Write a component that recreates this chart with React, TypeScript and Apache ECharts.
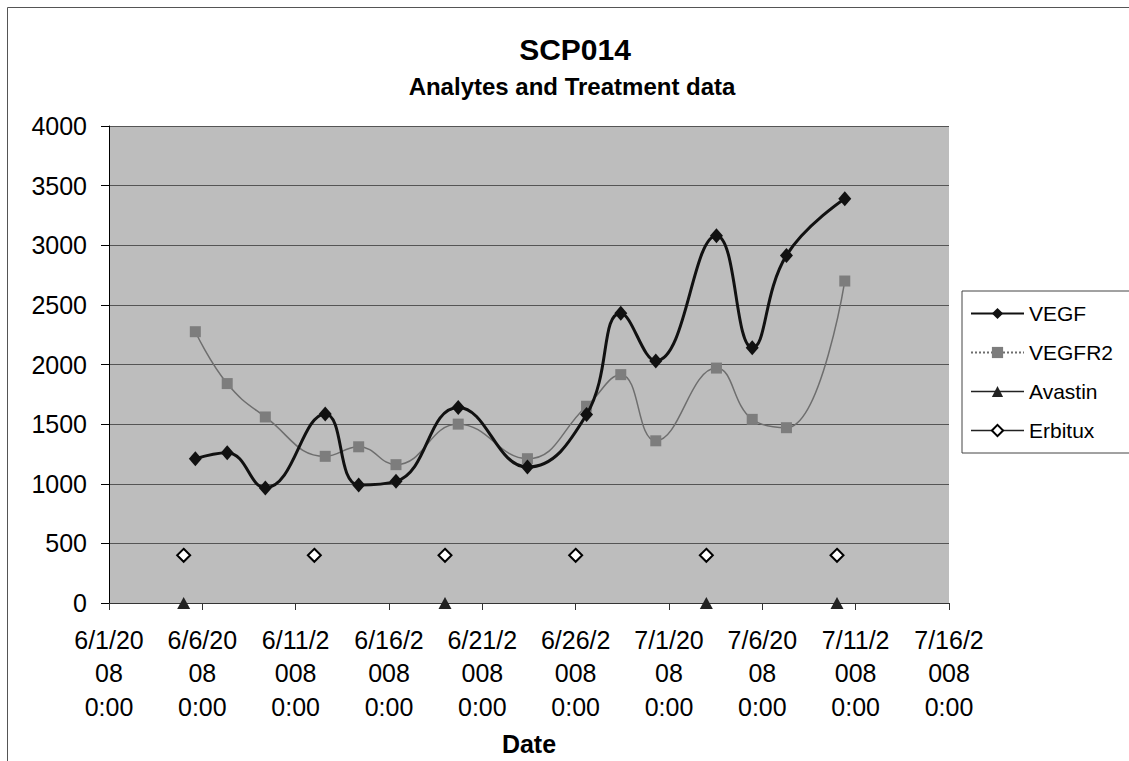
import React, { useEffect, useRef } from "react";
import * as echarts from "echarts";

// ---- data ----
const analyteDates = [
  "2008-06-05 15:00",
  "2008-06-07 08:00",
  "2008-06-09 09:00",
  "2008-06-12 14:00",
  "2008-06-14 09:00",
  "2008-06-16 09:00",
  "2008-06-19 17:00",
  "2008-06-23 10:00",
  "2008-06-26 14:00",
  "2008-06-28 10:00",
  "2008-06-30 07:00",
  "2008-07-03 13:00",
  "2008-07-05 11:00",
  "2008-07-07 07:00",
  "2008-07-10 10:00",
];
const vegf = [1210, 1260, 965, 1585, 990, 1020, 1640, 1140, 1580, 2430, 2030, 3080, 2140, 2915, 3390];
const vegfr2 = [2275, 1840, 1560, 1230, 1310, 1160, 1500, 1210, 1650, 1915, 1360, 1970, 1540, 1470, 2700];

const avastinDates = ["2008-06-05 00:00", "2008-06-19 00:00", "2008-07-03 00:00", "2008-07-10 00:00"];
const avastin = [0, 0, 0, 0];

const erbituxDates = [
  "2008-06-05 00:00",
  "2008-06-12 00:00",
  "2008-06-19 00:00",
  "2008-06-26 00:00",
  "2008-07-03 00:00",
  "2008-07-10 00:00",
];
const erbitux = [400, 400, 400, 400, 400, 400];

const xStart = "2008-06-01 00:00";
const xEnd = "2008-07-16 00:00";
const xStepDays = 5;
const yMin = 0;
const yMax = 4000;
const yStep = 500;

const titleText = "SCP014";
const subtitleText = "Analytes and Treatment data";
const xName = "Date";
const seriesNames = ["VEGF", "VEGFR2", "Avastin", "Erbitux"];

// ---- helpers ----
const DAY = 86400000;
function toUTC(s: string): number {
  const [d, t = "0:00"] = s.split(" ");
  const [y, m, dd] = d.split("-").map(Number);
  const [h, mi] = t.split(":").map(Number);
  return Date.UTC(y, m - 1, dd, h, mi);
}
const originMs = toUTC(xStart);
const dayOffset = (s: string) => (toUTC(s) - originMs) / DAY;
function dateLabel(v: number): string {
  const d = new Date(originMs + Math.round(v * DAY));
  const s = `${d.getUTCMonth() + 1}/${d.getUTCDate()}/${d.getUTCFullYear()}`;
  return s.slice(0, 6) + "\n" + s.slice(6) + "\n0:00";
}
const pairs = (dates: string[], vals: number[]) => dates.map((d, i) => [dayOffset(d), vals[i]]);

const FONT = "'Liberation Sans', Arial, sans-serif";

export default function App() {
  const ref = useRef<HTMLDivElement>(null);
  useEffect(() => {
    if (!ref.current) return;
    const chart = echarts.init(ref.current, undefined, { renderer: "svg" });
    chart.setOption({
      animation: false,
      backgroundColor: "#ffffff",
      textStyle: { fontFamily: FONT },
      title: [
        {
          text: titleText,
          left: 570,
          top: 29,
          textAlign: "center",
          textStyle: { fontFamily: FONT, fontWeight: "bold", fontSize: 30, color: "#000" },
        },
        {
          text: subtitleText,
          left: 567,
          top: 69,
          textAlign: "center",
          textStyle: { fontFamily: FONT, fontWeight: "bold", fontSize: 24, color: "#000" },
        },
      ],
      graphic: [
        {
          type: "rect",
          shape: { x: 7.5, y: 7.5, width: 1140, height: 770 },
          style: { fill: "none", stroke: "#555", lineWidth: 1 },
          silent: true,
          z: 0,
        },
      ],
      legend: {
        orient: "vertical",
        left: 962,
        top: 291,
        padding: [12, 60, 12, 8],
        itemWidth: 53,
        itemHeight: 14,
        itemGap: 18,
        backgroundColor: "#fff",
        borderColor: "#444",
        borderWidth: 1,
        textStyle: { fontFamily: FONT, fontSize: 21, color: "#000", lineHeight: 20 },
        data: [
          { name: "VEGF" },
          { name: "VEGFR2", lineStyle: { type: "dotted" } },
          { name: "Avastin", lineStyle: { width: 1.5, color: "#222" } },
          { name: "Erbitux", lineStyle: { width: 1.5, color: "#222" } },
        ],
      },
      grid: {
        left: 109,
        top: 126,
        width: 840,
        height: 481,
        show: true,
        backgroundColor: "#bdbdbd",
        borderWidth: 0,
      },
      xAxis: {
        type: "value",
        min: 0,
        max: dayOffset(xEnd),
        interval: xStepDays,
        name: xName,
        nameLocation: "middle",
        nameGap: 128,
        nameTextStyle: { fontFamily: FONT, fontWeight: "bold", fontSize: 25, color: "#000" },
        axisLine: { show: true, lineStyle: { color: "#333", width: 1 } },
        axisTick: { show: true, length: 7, lineStyle: { color: "#333" } },
        splitLine: { show: false },
        axisLabel: {
          margin: 20,
          fontFamily: FONT,
          fontSize: 25,
          lineHeight: 33.5,
          color: "#000",
          formatter: (v: number) => dateLabel(v),
        },
      },
      yAxis: {
        type: "value",
        min: yMin,
        max: yMax,
        interval: yStep,
        axisLine: { show: true, lineStyle: { color: "#000", width: 1 } },
        axisTick: { show: true, length: 8, lineStyle: { color: "#000" } },
        splitLine: { show: true, lineStyle: { color: "#555", width: 1 } },
        axisLabel: {
          margin: 22,
          fontFamily: FONT,
          fontSize: 25,
          color: "#000",
          formatter: (v: number) => String(v),
        },
      },
      series: [
        {
          name: seriesNames[0],
          type: "line",
          data: pairs(analyteDates, vegf),
          smooth: 0.45,
          symbol: "diamond",
          symbolSize: [13, 15],
          itemStyle: { color: "#111" },
          lineStyle: { color: "#111", width: 3 },
          z: 4,
        },
        {
          name: seriesNames[1],
          type: "line",
          data: pairs(analyteDates, vegfr2),
          smooth: 0.45,
          symbol: "rect",
          symbolSize: 11,
          itemStyle: { color: "#7d7d7d" },
          lineStyle: { color: "#6e6e6e", width: 1.5 },
          z: 3,
        },
        {
          name: seriesNames[2],
          type: "line",
          data: pairs(avastinDates, avastin),
          symbol: "triangle",
          symbolSize: [13, 12],
          itemStyle: { color: "#222" },
          lineStyle: { width: 0 },
          z: 5,
        },
        {
          name: seriesNames[3],
          type: "line",
          data: pairs(erbituxDates, erbitux),
          symbol: "diamond",
          symbolSize: [13, 13],
          itemStyle: { color: "#fff", borderColor: "#000", borderWidth: 2 },
          lineStyle: { width: 0 },
          z: 5,
        },
      ],
    });
    return () => chart.dispose();
  }, []);
  return (
    <div
      ref={ref}
      style={{ position: "fixed", left: 0, top: 0, width: 1129, height: 761 }}
    />
  );
}
